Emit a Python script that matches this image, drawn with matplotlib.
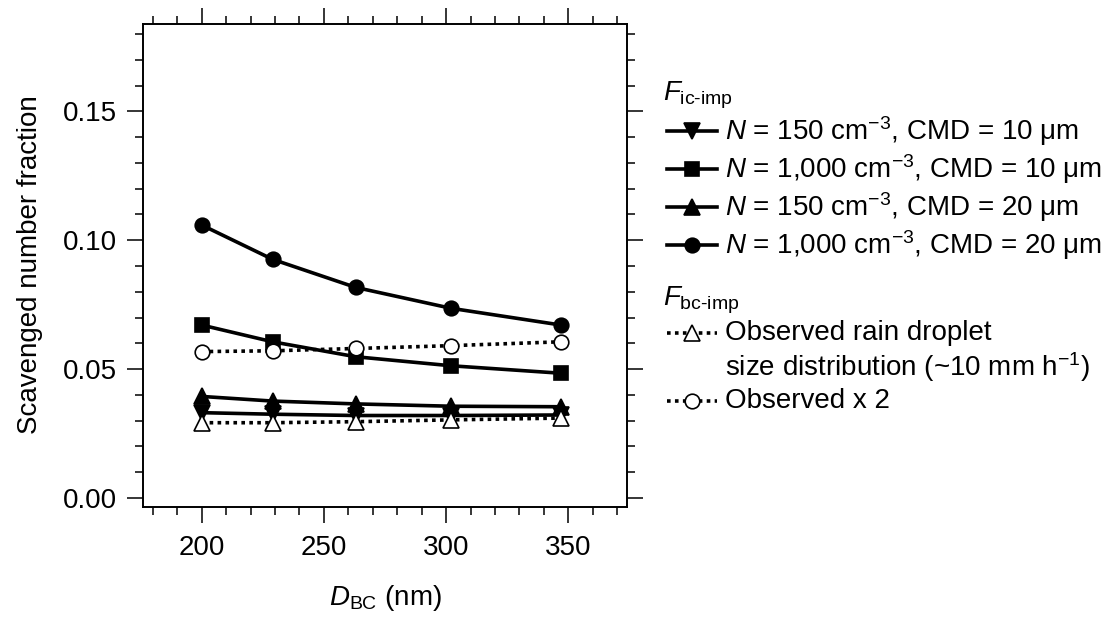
import matplotlib
matplotlib.use("Agg")
import matplotlib.pyplot as plt
from matplotlib.lines import Line2D
from matplotlib.ticker import MultipleLocator

# data
d_bc = [200, 229, 263, 302, 347]
ic_150_10 = [0.0331, 0.0325, 0.0320, 0.0320, 0.0322]
ic_1000_10 = [0.0671, 0.0606, 0.0548, 0.0513, 0.0484]
ic_150_20 = [0.0394, 0.0376, 0.0365, 0.0356, 0.0354]
ic_1000_20 = [0.1059, 0.0926, 0.0817, 0.0736, 0.0671]
bc_obs = [0.0292, 0.0292, 0.0296, 0.0303, 0.0310]
bc_obs_x2 = [0.0568, 0.0571, 0.0580, 0.0591, 0.0606]

ic_labels = [r"$\mathit{N}$ = 150 cm$^{-3}$, CMD = 10 μm",
             r"$\mathit{N}$ = 1,000 cm$^{-3}$, CMD = 10 μm",
             r"$\mathit{N}$ = 150 cm$^{-3}$, CMD = 20 μm",
             r"$\mathit{N}$ = 1,000 cm$^{-3}$, CMD = 20 μm"]
bc_labels = ["Observed rain droplet", r"size distribution (~10 mm h$^{-1}$)", "Observed x 2"]

plt.rcParams['font.family'] = ['Liberation Sans', 'DejaVu Sans']
plt.rcParams['mathtext.fontset'] = 'custom'
plt.rcParams['mathtext.rm'] = 'Liberation Sans'
plt.rcParams['mathtext.it'] = 'Liberation Sans:italic'
plt.rcParams['mathtext.bf'] = 'Liberation Sans:bold'
plt.rcParams['font.size'] = 20

W, H = 1104, 621
fig = plt.figure(figsize=(W / 100, H / 100), dpi=100)
ax = fig.add_axes([143 / W, 1 - 507 / H, 484 / W, 483 / H])

lw = 2.6
ms = {'o': 10.5, 's': 9.5, '^': 11.5, 'v': 11.5}
ls_dot = (0, (1, 1.2))


def style(mk, open_=False):
    return dict(color='black', lw=lw, marker=mk, ms=ms[mk],
                mfc='white' if open_ else 'black', mec='black', mew=1.2,
                ls=ls_dot if open_ else '-', zorder=4 if open_ else 3)


ax.plot(d_bc, ic_150_10, **style('v'))
ax.plot(d_bc, ic_1000_10, **style('s'))
ax.plot(d_bc, ic_150_20, **style('^'))
ax.plot(d_bc, ic_1000_20, **style('o'))
ax.plot(d_bc, bc_obs, **style('^', True))
ax.plot(d_bc, bc_obs_x2, **style('o', True))

ax.set_xlim(176, 374)
ax.set_ylim(-0.0035, 0.1839)
ax.xaxis.set_major_locator(MultipleLocator(50))
ax.xaxis.set_minor_locator(MultipleLocator(10))
ax.yaxis.set_major_locator(MultipleLocator(0.05))
ax.yaxis.set_minor_locator(MultipleLocator(0.01))
ax.yaxis.set_major_formatter(lambda v, p: f"{v:.2f}")
ax.tick_params(which='both', direction='out', top=True, right=True, width=1.1)
ax.tick_params(axis='x', pad=9)
ax.tick_params(axis='y', pad=7)
ax.tick_params(which='major', length=11.5)
ax.tick_params(which='minor', length=5.8)
for s in ax.spines.values():
    s.set_linewidth(1.4)

fig.text(30 / W, 1 - 265 / H, "Scavenged number fraction", rotation=90, ha='center', va='center')
fig.text(385 / W, 1 - 598 / H, r"$\mathit{D}_{\mathrm{BC}}$ (nm)", ha='center', va='center')


# hand-built legend
def handle(y, mk, open_=False):
    st = style(mk, open_)
    fig.add_artist(Line2D([667 / W, 717 / W], [1 - y / H] * 2, transform=fig.transFigure,
                          color='black', lw=lw, ls=st['ls']))
    fig.add_artist(Line2D([692 / W], [1 - y / H], transform=fig.transFigure, marker=mk,
                          ms=ms[mk], mfc=st['mfc'], mec='black', mew=1.2, ls='none'))


text_x = 725 / W
fig.text(663 / W, 1 - 95 / H, r"$\mathit{F}_{\text{ic-imp}}$", va='center')
for i, (lab, mk) in enumerate(zip(ic_labels, ['v', 's', '^', 'o'])):
    y = 131 + 38 * i
    handle(y, mk)
    fig.text(text_x, 1 - y / H, lab, va='center')

fig.text(663 / W, 1 - 300 / H, r"$\mathit{F}_{\text{bc-imp}}$", va='center')
handle(333, '^', True)
fig.text(text_x, 1 - 333 / H, bc_labels[0], va='center')
fig.text(text_x, 1 - 367 / H, bc_labels[1], va='center')
handle(401, 'o', True)
fig.text(text_x, 1 - 401 / H, bc_labels[2], va='center')

fig.savefig("out.png", dpi=100)
